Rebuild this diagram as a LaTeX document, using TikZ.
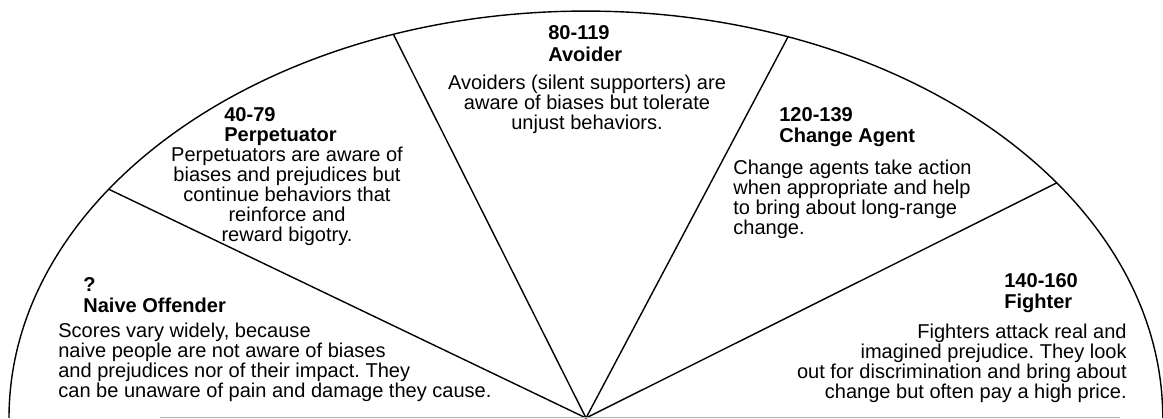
\documentclass[tikz,border=0pt]{standalone}
\usepackage{fontspec}
\setmainfont{Liberation Sans}
\usetikzlibrary{positioning}
\frenchspacing

\tikzset{
  rim/.style={line width=0.8pt},
  score/.style={font=\bfseries\fontsize{11.4}{12}\selectfont,inner sep=0pt,anchor=base west},
  blurb/.style={font=\fontsize{11.4}{11.4}\selectfont,inner sep=0pt},
}

\begin{document}
\begin{tikzpicture}[x=0.02cm,y=0.02cm]
\useasboundingbox (0,0) rectangle (1163,419);
% half ellipse with five sectors, all spokes from the bottom centre
\coordinate (o) at (586,1);
\draw[rim] (o) ++(180:577 and 407) arc[start angle=180,end angle=0,x radius=11.54cm,y radius=8.14cm];
\foreach \a/\n in {145.8/1,109.5/2,69.5/3,35.3/4} {
  \path (o) ++(\a:577 and 407) coordinate (s\n);
  \draw[rim] (o) -- (s\n);
}
% faint ground line
\coordinate (g1) at (160,2);
\coordinate (g2) at (1120,2);
\draw[gray!60,line width=0.5pt] (g1) -- (g2);

% naive offender (text nodes sit on the baseline of their last line)
\node[score] (naive-num) at (83,127) {?};
\node[score,below=0.42cm of naive-num.base west,anchor=base west] (naive-name) {Naive Offender};
\node[blurb,align=left,anchor=base west] (naive-text) at (58,21)
  {Scores vary widely, because\\naive people are not aware of biases\\and prejudices nor of their impact. They\\can be unaware of pain and damage they cause.};

% perpetuator
\node[score] (perp-num) at (224,297) {40-79};
\node[score,below=0.4cm of perp-num.base west,anchor=base west] (perp-name) {Perpetuator};
\node[blurb,align=center,anchor=base] (perp-text) at (287,177)
  {Perpetuators are aware of\\biases and prejudices but\\continue behaviors that\\reinforce and\\reward bigotry.};

% avoider
\node[score] (avoid-num) at (548,379) {80-119};
\node[score,below=0.44cm of avoid-num.base west,anchor=base west] (avoid-name) {Avoider};
\node[blurb,align=center,anchor=base] (avoid-text) at (587,289)
  {Avoiders (silent supporters) are\\aware of biases but tolerate\\unjust behaviors.};

% change agent
\node[score] (agent-num) at (779,297) {120-139};
\node[score,below=0.42cm of agent-num.base west,anchor=base west] (agent-name) {Change Agent};
\node[blurb,align=left,anchor=base west] (agent-text) at (733,184)
  {Change agents take action\\when appropriate and help\\to bring about long-range\\change.};

% fighter
\node[score] (fight-num) at (1004,131) {140-160};
\node[score,below=0.42cm of fight-num.base west,anchor=base west] (fight-name) {Fighter};
\node[blurb,align=right,anchor=base east] (fight-text) at (1127,20)
  {Fighters attack real and\\imagined prejudice. They look\\out for discrimination and bring about\\change but often pay a high price.};
\end{tikzpicture}
\end{document}
